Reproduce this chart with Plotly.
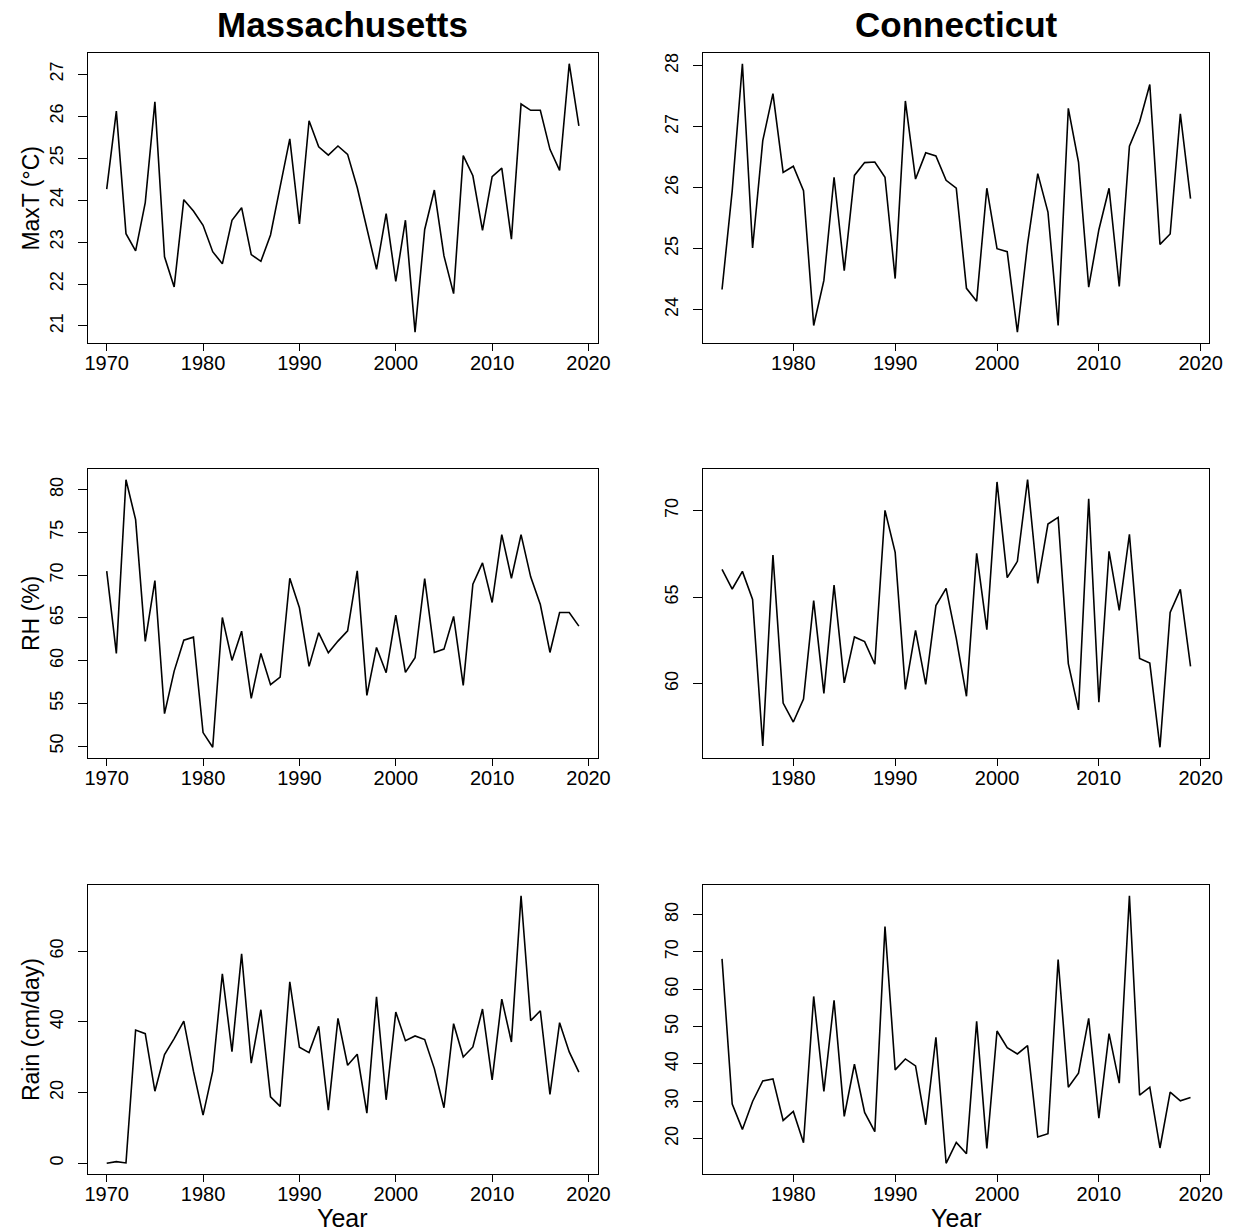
import plotly.graph_objects as go

# ---------------- data ----------------
ma_years = list(range(1970, 2020))
ct_years = list(range(1973, 2020))

ma_maxt = [24.26, 26.12, 23.20, 22.79, 23.94, 26.34, 22.65, 21.93, 24.01, 23.74,
           23.40, 22.77, 22.48, 23.52, 23.82, 22.70, 22.54, 23.17, 24.32, 25.46,
           23.43, 25.89, 25.27, 25.07, 25.29, 25.09, 24.30, 23.36, 22.35, 23.68,
           22.06, 23.52, 20.85, 23.30, 24.24, 22.67, 21.77, 25.06, 24.58, 23.28,
           24.56, 24.76, 23.07, 26.29, 26.14, 26.14, 25.21, 24.71, 27.25, 25.77]

ct_maxt = [24.33, 25.95, 28.03, 25.01, 26.77, 27.54, 26.25, 26.35, 25.95, 23.74,
           24.48, 26.17, 24.64, 26.20, 26.41, 26.42, 26.17, 24.51, 27.42, 26.14,
           26.57, 26.52, 26.12, 25.99, 24.35, 24.14, 25.99, 25.00, 24.95, 23.63,
           25.08, 26.23, 25.60, 23.74, 27.30, 26.42, 24.37, 25.31, 25.99, 24.38,
           26.68, 27.08, 27.69, 25.07, 25.24, 27.21, 25.82]

ma_rh = [70.47, 60.86, 81.17, 76.50, 62.26, 69.38, 53.81, 58.79, 62.41, 62.76,
         51.60, 49.88, 65.06, 60.04, 63.46, 55.60, 60.86, 57.20, 58.09, 69.65,
         66.19, 59.34, 63.27, 60.93, 62.30, 63.50, 70.51, 55.95, 61.56, 58.60,
         65.33, 58.64, 60.35, 69.61, 60.97, 61.36, 65.18, 57.12, 68.95, 71.44,
         66.81, 74.75, 69.65, 74.75, 69.81, 66.58, 60.97, 65.64, 65.64, 64.05]

ct_rh = [66.61, 65.47, 66.49, 64.87, 56.40, 67.44, 58.88, 57.78, 59.11, 64.80,
         59.44, 65.70, 60.04, 62.70, 62.43, 61.12, 70.02, 67.59, 59.67, 63.08,
         59.96, 64.51, 65.51, 62.62, 59.27, 67.53, 63.12, 71.66, 66.13, 67.07,
         71.79, 65.80, 69.23, 69.61, 61.16, 58.48, 70.69, 58.92, 67.65, 64.24,
         68.63, 61.46, 61.19, 56.32, 64.12, 65.45, 61.00]

ma_rain = [0.0, 0.47, 0.1, 37.72, 36.69, 20.41, 30.76, 35.3, 40.26, 26.06,
           13.64, 26.06, 53.62, 31.61, 59.27, 28.32, 43.46, 18.81, 16.09, 51.36,
           32.83, 31.33, 38.76, 15.05, 41.02, 27.75, 30.86, 14.20, 47.13, 17.97,
           42.80, 34.71, 36.03, 35.00, 26.8, 15.71, 39.51, 30.10, 32.93, 43.65,
           23.61, 46.47, 34.34, 75.73, 40.36, 43.18, 19.47, 39.79, 31.51, 25.78]

ct_rain = [68.16, 29.24, 22.47, 29.96, 35.48, 36.01, 24.88, 27.28, 18.91, 58.09,
           32.63, 57.03, 25.95, 39.93, 27.02, 21.85, 76.79, 38.41, 41.35, 39.48,
           23.72, 47.14, 13.39, 19.00, 15.97, 51.42, 17.40, 48.83, 44.38, 42.69,
           44.92, 20.43, 21.32, 67.98, 33.78, 37.52, 52.22, 25.50, 48.12, 34.85,
           85.08, 31.65, 33.78, 17.49, 32.45, 30.13, 31.02]

x_ticks = [1970, 1980, 1990, 2000, 2010, 2020]
ma_maxt_ticks = [21, 22, 23, 24, 25, 26, 27]
ct_maxt_ticks = [24, 25, 26, 27, 28]
ma_rh_ticks = [50, 55, 60, 65, 70, 75, 80]
ct_rh_ticks = [60, 65, 70]
ma_rain_ticks = [0, 20, 40, 60]
ct_rain_ticks = [20, 30, 40, 50, 60, 70, 80]

state_titles = ["Massachusetts", "Connecticut"]
y_titles = ["MaxT (°C)", "RH (%)", "Rain (cm/day)"]
x_title = "Year"

# ---------------- layout geometry (pixels) ----------------
W, H = 1243, 1232
col_px = [(86, 603), (710, 1223)]
row_px = [(53, 343), (469, 758), (885, 1174)]


def pad_range(vals, f=0.04):
    lo, hi = min(vals), max(vals)
    d = hi - lo
    return [lo - f * d, hi + f * d]


panels = [
    (0, 0, ma_years, ma_maxt, ma_maxt_ticks),
    (0, 1, ct_years, ct_maxt, ct_maxt_ticks),
    (1, 0, ma_years, ma_rh, ma_rh_ticks),
    (1, 1, ct_years, ct_rh, ct_rh_ticks),
    (2, 0, ma_years, ma_rain, ma_rain_ticks),
    (2, 1, ct_years, ct_rain, ct_rain_ticks),
]

FONT = "Liberation Sans, Arial, sans-serif"
fig = go.Figure()
layout = dict(
    width=W, height=H, autosize=False,
    margin=dict(l=0, r=0, t=0, b=0),
    paper_bgcolor="white", plot_bgcolor="white",
    showlegend=False,
    font=dict(family=FONT, color="black"),
)

for i, (r, c, xs, ys, yt) in enumerate(panels):
    n = i + 1
    xa = "x" if n == 1 else f"x{n}"
    ya = "y" if n == 1 else f"y{n}"
    fig.add_trace(go.Scatter(x=xs, y=ys, mode="lines",
                             line=dict(color="black", width=1.6),
                             xaxis=xa, yaxis=ya, hoverinfo="skip"))
    x0, x1 = col_px[c]
    y0, y1 = row_px[r]
    xkey = "xaxis" if n == 1 else f"xaxis{n}"
    ykey = "yaxis" if n == 1 else f"yaxis{n}"
    layout[xkey] = dict(
        domain=[x0 / W, x1 / W], anchor=ya,
        range=pad_range(xs), tickvals=x_ticks, ticktext=[str(v) for v in x_ticks],
        ticks="outside", ticklen=7, tickwidth=1, tickcolor="black",
        showline=True, mirror=True, linecolor="black", linewidth=1,
        showgrid=False, zeroline=False, ticklabelstandoff=-5,
        tickfont=dict(family=FONT, size=20, color="black"),
    )
    layout[ykey] = dict(
        domain=[1 - y1 / H, 1 - y0 / H], anchor=xa,
        range=pad_range(ys), tickvals=yt, ticktext=[str(v) for v in yt],
        ticks="outside", ticklen=9, tickwidth=1, tickcolor="black",
        showline=True, mirror=True, linecolor="black", linewidth=1,
        showgrid=False, zeroline=False, tickangle=-90,
        ticklabelstandoff=8,
        tickfont=dict(family=FONT, size=18, color="black"),
    )

annotations = []
for c, t in enumerate(state_titles):
    x0, x1 = col_px[c]
    annotations.append(dict(text=f"<b>{t}</b>", x=(x0 + x1) / 2 / W, y=1 - 25 / H,
                            xref="paper", yref="paper", xanchor="center", yanchor="middle",
                            showarrow=False, font=dict(family=FONT, size=35, color="black")))
for r, t in enumerate(y_titles):
    y0, y1 = row_px[r]
    annotations.append(dict(text=t, x=28 / W, y=1 - (y0 + y1) / 2 / H,
                            xref="paper", yref="paper", xanchor="center", yanchor="middle",
                            textangle=-90, showarrow=False,
                            font=dict(family=FONT, size=23, color="black")))
for c in range(2):
    x0, x1 = col_px[c]
    annotations.append(dict(text=x_title, x=(x0 + x1) / 2 / W, y=1 - 1218 / H,
                            xref="paper", yref="paper", xanchor="center", yanchor="middle",
                            showarrow=False, font=dict(family=FONT, size=25, color="black")))
layout["annotations"] = annotations

fig.update_layout(**layout)
fig.write_html("out.html", config={"displayModeBar": False, "responsive": False},
               post_script="document.body.style.margin='0';document.body.style.overflow='hidden';")
